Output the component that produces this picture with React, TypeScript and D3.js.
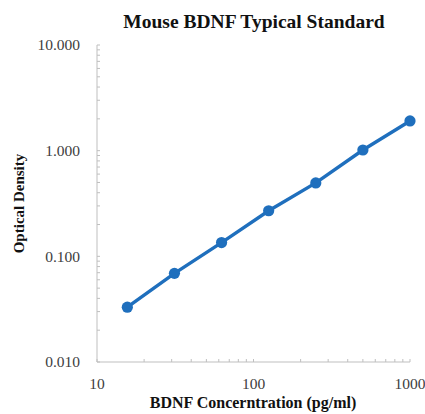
import React from "react";
import * as d3 from "d3";

const concentrations = [15.625, 31.25, 62.5, 125, 250, 500, 1000];
const odValues = [0.033, 0.069, 0.135, 0.27, 0.495, 1.015, 1.91];
const xTickLabels = ["10", "100", "1000"];
const yTickLabels = ["0.010", "0.100", "1.000", "10.000"];

const width = 425;
const height = 414;
const margin = { top: 45, right: 15, bottom: 52, left: 97 };
const blue = "#1f6fbd";
const axisGray = "#bfbfbf";
const serif = "'Liberation Serif', 'Times New Roman', serif";

const App: React.FC = () => {
  const x = d3
    .scaleLog()
    .domain([10, 1000])
    .range([margin.left, width - margin.right]);
  const y = d3
    .scaleLog()
    .domain([0.01, 10])
    .range([height - margin.bottom, margin.top]);

  const line = d3
    .line<number>()
    .x((_, i) => x(concentrations[i]))
    .y((d) => y(d));

  const x0 = x.range()[0];
  const y0 = y.range()[0];

  return (
    <svg
      width={width}
      height={height}
      style={{ position: "absolute", left: 0, top: 0, background: "#fff" }}
    >
      <text
        x={254}
        y={28}
        textAnchor="middle"
        fontFamily={serif}
        fontWeight="bold"
        fontSize={19.5}
        fill="#111"
      >
        Mouse BDNF Typical Standard
      </text>

      {/* axes */}
      <line x1={x0} x2={x0} y1={y.range()[1]} y2={y0} stroke={axisGray} />
      <line x1={x0} x2={x.range()[1]} y1={y0} y2={y0} stroke={axisGray} />

      {y.ticks().map((t, i) => (
        <line key={"yt" + i} x1={x0} x2={x0 + 3} y1={y(t)} y2={y(t)} stroke={axisGray} />
      ))}
      {x.ticks().map((t, i) => (
        <line key={"xt" + i} x1={x(t)} x2={x(t)} y1={y0} y2={y0 - 3} stroke={axisGray} />
      ))}

      {yTickLabels.map((l) => (
        <text
          key={l}
          x={x0 - 17}
          y={y(+l)}
          dy="0.35em"
          textAnchor="end"
          fontFamily={serif}
          fontSize={15.5}
          fill="#404040"
        >
          {l}
        </text>
      ))}
      {xTickLabels.map((l) => (
        <text
          key={l}
          x={x(+l)}
          y={y0 + 27}
          textAnchor="middle"
          fontFamily={serif}
          fontSize={15.5}
          fill="#404040"
        >
          {l}
        </text>
      ))}

      <text
        x={253}
        y={408}
        textAnchor="middle"
        fontFamily={serif}
        fontWeight="bold"
        fontSize={16}
        fill="#111"
      >
        BDNF Concerntration (pg/ml)
      </text>
      <text
        transform={`translate(24,${(y.range()[0] + y.range()[1]) / 2}) rotate(-90)`}
        textAnchor="middle"
        fontFamily={serif}
        fontWeight="bold"
        fontSize={15}
        fill="#111"
      >
        Optical Density
      </text>

      <path d={line(odValues) ?? ""} fill="none" stroke={blue} strokeWidth={3.4} />
      {odValues.map((v, i) => (
        <circle key={i} cx={x(concentrations[i])} cy={y(v)} r={5.6} fill={blue} />
      ))}
    </svg>
  );
};

export default App;
